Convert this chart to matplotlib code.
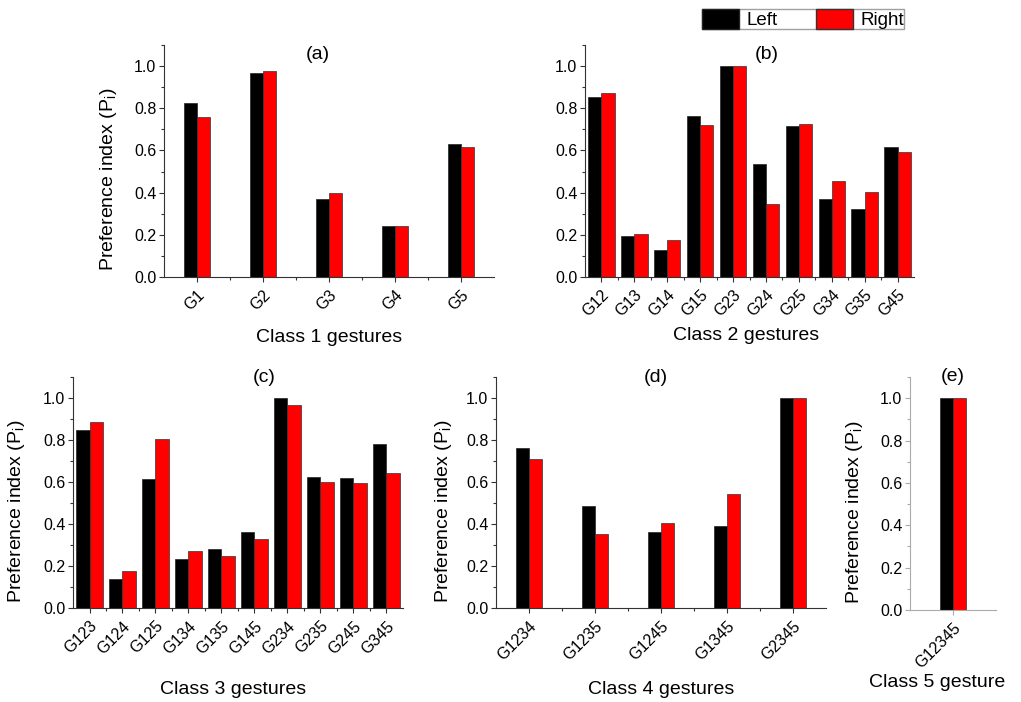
import numpy as np
import matplotlib
matplotlib.use("Agg")
import matplotlib.pyplot as plt
from matplotlib.patches import Patch
from matplotlib.ticker import MultipleLocator, FixedLocator

plt.rcParams['font.family'] = ['Liberation Sans', 'DejaVu Sans']
plt.rcParams['mathtext.fontset'] = 'custom'
plt.rcParams['mathtext.rm'] = 'Liberation Sans'

# data
class1 = ["G1", "G2", "G3", "G4", "G5"]
class1_left = [0.825, 0.967, 0.368, 0.240, 0.632]
class1_right = [0.760, 0.977, 0.400, 0.240, 0.615]

class2 = ["G12", "G13", "G14", "G15", "G23", "G24", "G25", "G34", "G35", "G45"]
class2_left = [0.853, 0.195, 0.128, 0.765, 1.000, 0.535, 0.715, 0.368, 0.323, 0.615]
class2_right = [0.872, 0.203, 0.176, 0.720, 1.000, 0.348, 0.727, 0.455, 0.404, 0.593]

class3 = ["G123", "G124", "G125", "G134", "G135", "G145", "G234", "G235", "G245", "G345"]
class3_left = [0.847, 0.140, 0.615, 0.233, 0.283, 0.360, 1.000, 0.625, 0.620, 0.780]
class3_right = [0.884, 0.175, 0.805, 0.272, 0.248, 0.328, 0.967, 0.600, 0.595, 0.645]

class4 = ["G1234", "G1235", "G1245", "G1345", "G2345"]
class4_left = [0.760, 0.488, 0.360, 0.392, 1.000]
class4_right = [0.712, 0.353, 0.407, 0.543, 1.000]

class5 = ["G12345"]
class5_left = [1.000]
class5_right = [1.000]

YLABEL = r"Preference index (P$_\mathregular{i}$)"
TICK_FS = 11.5
LABEL_FS = 14

fig = plt.figure(figsize=(10.21, 7.02), dpi=100)


def panel(rect, cats, left, right, width, title, title_xy, xlabel, xlabel_xy,
          ylabel_x=None, spine_color="#333333", xpad=0.5):
    ax = fig.add_axes(rect)
    x = np.arange(1, len(cats) + 1)
    ax.bar(x - width / 2, left, width, color="black", edgecolor="#222222", linewidth=0.5)
    ax.bar(x + width / 2, right, width, color="#ff0000", edgecolor="#333333", linewidth=0.5)
    ax.set_xlim(1 - xpad, len(cats) + xpad)
    ax.set_ylim(0, 1.1)
    ax.set_yticks(np.arange(0, 1.01, 0.2))
    ax.set_yticklabels(["%.1f" % v for v in np.arange(0, 1.01, 0.2)], fontsize=TICK_FS)
    ax.yaxis.set_minor_locator(MultipleLocator(0.1))
    ax.set_xticks(x)
    ax.set_xticklabels(cats, rotation=45, ha="right", rotation_mode="anchor", fontsize=TICK_FS)
    ax.xaxis.set_minor_locator(FixedLocator(np.arange(1.5, len(cats), 1.0)))
    for s in ["top", "right"]:
        ax.spines[s].set_visible(False)
    for s in ["left", "bottom"]:
        ax.spines[s].set_color(spine_color)
        ax.spines[s].set_linewidth(0.8)
    ax.tick_params(which="both", direction="out", color=spine_color, width=0.8)
    ax.tick_params(which="major", length=3.5)
    ax.tick_params(which="minor", length=2)
    ax.tick_params(axis="y", pad=2)
    ax.tick_params(axis="x", pad=4)
    ax.text(title_xy[0], title_xy[1], title, transform=ax.transAxes,
            ha="center", va="center", fontsize=LABEL_FS)
    ax.text(xlabel_xy[0], xlabel_xy[1], xlabel, transform=ax.transAxes,
            ha="center", va="center", fontsize=LABEL_FS)
    if ylabel_x is not None:
        ax.set_ylabel(YLABEL, fontsize=LABEL_FS)
        ax.yaxis.set_label_coords(ylabel_x, 0.42)
    return ax


panel([0.1606, 0.6054, 0.3232, 0.3305], class1, class1_left, class1_right, 0.19,
      "(a)", (0.467, 0.957), "Class 1 gestures", (0.5, -0.26), ylabel_x=-0.135)
panel([0.5730, 0.6054, 0.3222, 0.3305], class2, class2_left, class2_right, 0.40,
      "(b)", (0.553, 0.957), "Class 2 gestures", (0.49, -0.25))
panel([0.0715, 0.1339, 0.3232, 0.3290], class3, class3_left, class3_right, 0.40,
      "(c)", (0.58, 1.0), "Class 3 gestures", (0.485, -0.355), ylabel_x=-0.138)
panel([0.4858, 0.1339, 0.3232, 0.3290], class4, class4_left, class4_right, 0.19,
      "(d)", (0.485, 1.0), "Class 4 gestures", (0.5, -0.355), ylabel_x=-0.126)
panel([0.8913, 0.1311, 0.0842, 0.3319], class5, class5_left, class5_right, 0.15,
      "(e)", (0.5, 1.0), "Class 5 gesture", (0.31, -0.31), ylabel_x=-0.52,
      spine_color="#aaaaaa")

handles = [Patch(facecolor="black", edgecolor="#222222", label="Left"),
           Patch(facecolor="#ff0000", edgecolor="#333333", label="Right")]
leg = fig.legend(handles=handles, loc="center", bbox_to_anchor=(803 / 1021, 1 - 19 / 702),
                 ncol=2, fontsize=13.5, frameon=True, fancybox=False, handlelength=2.0,
                 handleheight=1.3, borderpad=0.0, columnspacing=2.0, handletextpad=0.4,
                 borderaxespad=0)
leg.get_frame().set_edgecolor("#888888")
leg.get_frame().set_linewidth(1.0)

fig.savefig("out.png", dpi=100)
